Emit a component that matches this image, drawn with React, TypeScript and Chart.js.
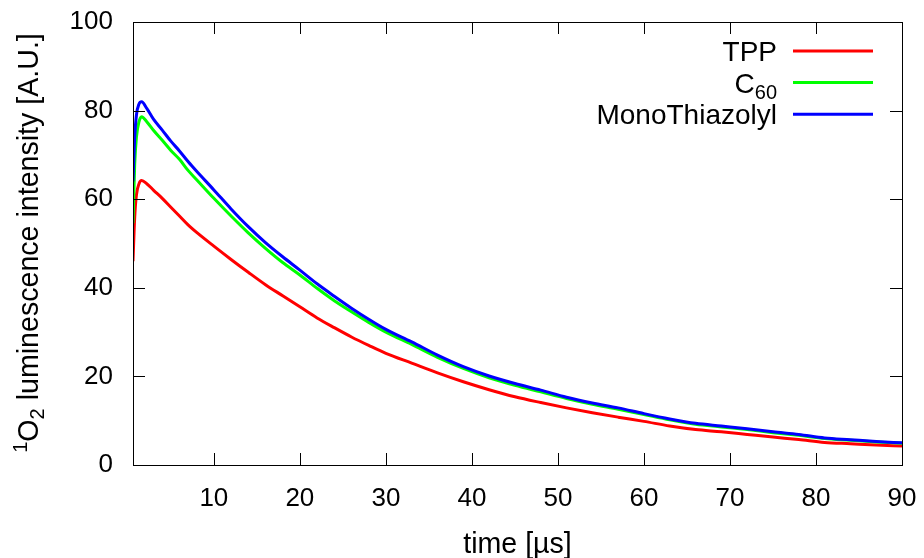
import React, { useEffect, useRef } from "react";
import { Chart, registerables } from "chart.js";

Chart.register(...registerables);

// ---- data ----
const timeUs = [0.6, 0.8, 1.0, 1.3, 1.6, 2.2, 3, 4, 5, 6, 7, 8, 10, 12, 14, 16, 18, 20, 22, 24, 26, 28, 30, 33, 36, 39, 42, 45, 48, 51, 54, 57, 60, 63, 66, 69, 72, 75, 78, 81, 84, 87, 90];
const tppValues = [46, 56, 61, 63.5, 64.2, 63.5, 62, 60.2, 58.2, 56.2, 54.2, 52.5, 49.4, 46.4, 43.5, 40.7, 38.2, 35.7, 33.2, 31.0, 28.9, 27.0, 25.2, 23.0, 20.8, 18.8, 17.0, 15.4, 14.1, 12.9, 11.8, 10.8, 9.85, 8.8, 8.0, 7.5, 6.9, 6.3, 5.75, 5.1, 4.8, 4.5, 4.3];
const c60Values = [54.6, 68, 74, 77.5, 78.6, 77.5, 75.5, 73.3, 71.0, 69.0, 66.5, 64.4, 60.2, 56.2, 52.4, 48.9, 45.7, 42.9, 39.9, 37.1, 34.6, 32.2, 30.0, 27.2, 24.3, 21.8, 19.7, 18.0, 16.5, 15.0, 13.7, 12.6, 11.4, 10.2, 9.2, 8.6, 8.0, 7.3, 6.7, 6.0, 5.6, 5.2, 4.9];
const monoValues = [64, 74, 79, 81.5, 82, 80.5, 78, 75.6, 73.1, 70.9, 68.5, 66.3, 62.1, 57.8, 53.8, 50.2, 47.0, 44.0, 40.9, 38.1, 35.4, 32.9, 30.6, 27.8, 24.8, 22.2, 20.1, 18.4, 16.9, 15.3, 14.0, 12.9, 11.6, 10.4, 9.4, 8.8, 8.2, 7.5, 6.9, 6.1, 5.7, 5.3, 5.0];
const xTickValues = [10, 20, 30, 40, 50, 60, 70, 80, 90];
const yTickValues = [0, 20, 40, 60, 80, 100];
const seriesLabels = ["TPP", "C60", "MonoThiazolyl"];
const seriesSubscripts = ["", "60", ""];
const seriesBase = ["TPP", "C", "MonoThiazolyl"];
const seriesColors = ["#ff0000", "#00ff00", "#0000ff"];
const xMin = 0.6;
const xMax = 90;
const yMin = 0;
const yMax = 100;

const FONT = "'Liberation Sans', Arial, sans-serif";
const LEGEND_SIZE = 28;
const TITLE_SIZE = 28.6;
const SMALL_SIZE = 20;
const TICK_LEN = 12;

const framePlugin = {
  id: "gnuFrame",
  afterDraw(chart: any) {
    const { ctx, chartArea, scales } = chart;
    const { left, right, top, bottom } = chartArea;
    ctx.save();
    ctx.strokeStyle = "#000";
    ctx.lineWidth = 1;
    ctx.strokeRect(left + 0.5, top + 0.5, right - left, bottom - top);
    ctx.beginPath();
    for (const v of xTickValues) {
      const px = Math.round(scales.x.getPixelForValue(v)) + 0.5;
      ctx.moveTo(px, bottom);
      ctx.lineTo(px, bottom - TICK_LEN);
      ctx.moveTo(px, top);
      ctx.lineTo(px, top + TICK_LEN);
    }
    for (const v of yTickValues) {
      const py = Math.round(scales.y.getPixelForValue(v)) + 0.5;
      ctx.moveTo(left, py);
      ctx.lineTo(left + TICK_LEN, py);
      ctx.moveTo(right, py);
      ctx.lineTo(right - TICK_LEN, py);
    }
    ctx.stroke();

    // legend
    ctx.textBaseline = "alphabetic";
    ctx.textAlign = "left";
    const textRight = 777;
    const lineX0 = 793;
    const lineX1 = 873;
    const rowTop = 51;
    const rowGap = 31.6;
    seriesLabels.forEach((_, i) => {
      const cy = rowTop + i * rowGap;
      const baseline = cy + 10;
      ctx.font = `${LEGEND_SIZE}px ${FONT}`;
      const wBase = ctx.measureText(seriesBase[i]).width;
      ctx.font = `${SMALL_SIZE}px ${FONT}`;
      const wSub = seriesSubscripts[i] ? ctx.measureText(seriesSubscripts[i]).width : 0;
      const x0 = textRight - wBase - wSub;
      ctx.fillStyle = "#000";
      ctx.font = `${LEGEND_SIZE}px ${FONT}`;
      ctx.fillText(seriesBase[i], x0, baseline);
      if (seriesSubscripts[i]) {
        ctx.font = `${SMALL_SIZE}px ${FONT}`;
        ctx.fillText(seriesSubscripts[i], x0 + wBase, baseline + 6);
      }
      ctx.strokeStyle = seriesColors[i];
      ctx.lineWidth = 3;
      ctx.beginPath();
      ctx.moveTo(lineX0, cy);
      ctx.lineTo(lineX1, cy);
      ctx.stroke();
    });

    // x title
    ctx.fillStyle = "#000";
    ctx.font = `${TITLE_SIZE}px ${FONT}`;
    ctx.textAlign = "center";
    ctx.fillText("time [\u00b5s]", (left + right) / 2, 553);

    // y title with super/subscripts
    const parts: [string, number, number][] = [
      ["1", SMALL_SIZE, -11],
      ["O", TITLE_SIZE, 0],
      ["2", SMALL_SIZE, 6],
      [" luminescence intensity [A.U.]", TITLE_SIZE, 0],
    ];
    ctx.textAlign = "left";
    let total = 0;
    const widths = parts.map(([t, s]) => {
      ctx.font = `${s}px ${FONT}`;
      const w = ctx.measureText(t).width;
      total += w;
      return w;
    });
    ctx.translate(38, 243);
    ctx.rotate(-Math.PI / 2);
    let cx = -total / 2;
    parts.forEach(([t, s, dy], i) => {
      ctx.font = `${s}px ${FONT}`;
      ctx.fillText(t, cx, dy);
      cx += widths[i];
    });
    ctx.restore();
  },
};

const zeroPad = (s: any) => {
  s.paddingTop = 0;
  s.paddingBottom = 0;
  s.paddingLeft = 0;
  s.paddingRight = 0;
};

export default function App() {
  const ref = useRef<HTMLCanvasElement | null>(null);
  useEffect(() => {
    if (!ref.current) return;
    const makeData = (vals: number[]) => timeUs.map((t, i) => ({ x: t, y: vals[i] }));
    const chart = new Chart(ref.current, {
      type: "line",
      data: {
        datasets: [
          { label: seriesLabels[0], data: makeData(tppValues), borderColor: seriesColors[0], order: 3 },
          { label: seriesLabels[1], data: makeData(c60Values), borderColor: seriesColors[1], order: 2 },
          { label: seriesLabels[2], data: makeData(monoValues), borderColor: seriesColors[2], order: 1 },
        ],
      },
      options: {
        responsive: false,
        animation: false,
        devicePixelRatio: 1,
        layout: { padding: { left: 0, right: 22, top: 22, bottom: 0 } },
        elements: {
          point: { radius: 0 },
          line: { borderWidth: 3, cubicInterpolationMode: "monotone" },
        },
        plugins: { legend: { display: false }, tooltip: { enabled: false }, title: { display: false } },
        scales: {
          x: {
            type: "linear",
            min: xMin,
            max: xMax,
            afterBuildTicks: (s: any) => {
              s.ticks = xTickValues.map((v) => ({ value: v }));
            },
            afterFit: (s: any) => {
              s.height = 93;
              zeroPad(s);
            },
            grid: { display: false, drawTicks: false },
            border: { display: false },
            ticks: {
              color: "#000",
              font: { family: FONT, size: 26 },
              padding: 18,
              maxRotation: 0,
              autoSkip: false,
            },
          },
          y: {
            type: "linear",
            min: yMin,
            max: yMax,
            afterBuildTicks: (s: any) => {
              s.ticks = yTickValues.map((v) => ({ value: v }));
            },
            afterFit: (s: any) => {
              s.width = 133;
              zeroPad(s);
            },
            grid: { display: false, drawTicks: false },
            border: { display: false },
            ticks: {
              color: "#000",
              font: { family: FONT, size: 26 },
              padding: 20,
              autoSkip: false,
            },
          },
        },
      },
      plugins: [framePlugin],
    } as any);
    return () => chart.destroy();
  }, []);
  return (
    <div style={{ position: "absolute", left: 0, top: 0, width: 924, height: 558, background: "#fff" }}>
      <canvas ref={ref} width={924} height={558} style={{ display: "block" }} />
    </div>
  );
}
